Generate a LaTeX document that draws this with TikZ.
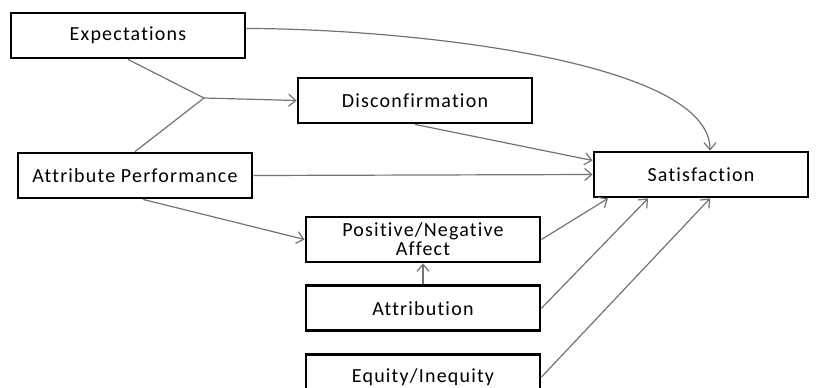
\documentclass[tikz,border=0pt]{standalone}
\usepackage{fontspec}
\setmainfont{Carlito}[LetterSpace=6, Ligatures=NoCommon]
\usepackage{tikz}
\usetikzlibrary{positioning, arrows.meta, calc}
\definecolor{line-gray}{gray}{0.45}

\tikzset{
  box/.style={draw=black, line width=1.4pt, minimum width=117pt, minimum height=22.5pt,
              inner sep=1pt, align=center, font=\fontsize{10}{10}\selectfont},
  link/.style={draw=line-gray, line width=0.6pt},
  >={Straight Barb[length=3.5pt,width=6pt]}
}

\begin{document}
\begin{tikzpicture}[x=0.5pt, y=-0.5pt, node distance=10.5pt]
						\useasboundingbox (0,0) rectangle (819,387);
						\node[box] (exp) at (128,35.5) {Expectations};
						\node[box] (disc) at (415,100.5) {Disconfirmation};
						\node[box] (perf) at (135,175.5) {Attribute Performance};
						\node[box, minimum width=107pt] (sat) at (701,174.5) {Satisfaction};
						\node[box, inner sep=0pt] (affect) at (423,239.5) {Positive/Negative\\[-0.4pt]Affect};
						\node[box, below =of affect] (attr) {Attribution};
						\node[box, below =of attr] (equity) {Equity/Inequity};
						\coordinate (junc) at (204,98);
						\draw[link]
						(exp.south) -- (junc)
						(perf.north) -- (junc)
						(junc) edge[->] (disc.west);
						\draw[link, ->] ([yshift=3.5pt]exp.east) .. controls +(150,0) and +(0,-92) .. ([xshift=4.5pt]sat.north);
						\draw[link]
						(disc.south) edge[->] ([yshift=7pt]sat.west)
						(perf.east) edge[->] (sat.west)
						([xshift=4pt]perf.south) edge[->] (affect.west)
						(affect.east) edge[->] ([xshift=-46.5pt]sat.south)
						(attr.east) edge[->] ([xshift=-26.5pt]sat.south)
						(equity.east) edge[->] ([xshift=4.5pt]sat.south)
						(attr.north) edge[->] (affect.south);
					\end{tikzpicture}
\end{document}
